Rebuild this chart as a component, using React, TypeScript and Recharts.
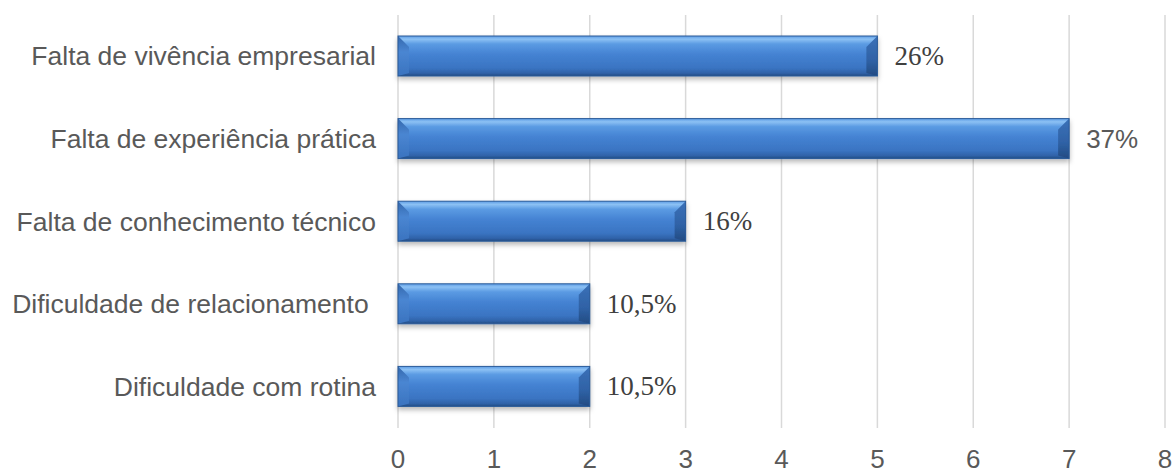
import React from "react";
import { BarChart, Bar, XAxis, YAxis, CartesianGrid, LabelList } from "recharts";

const categories = [
  "Falta de vivência empresarial",
  "Falta de experiência prática",
  "Falta de conhecimento técnico",
  "Dificuldade de relacionamento ",
  "Dificuldade com rotina",
];
const values = [5, 7, 3, 2, 2];
const percentLabels = ["26%", "37%", "16%", "10,5%", "10,5%"];
const xTicks = [0, 1, 2, 3, 4, 5, 6, 7, 8];

const data = categories.map((c, i) => ({ name: c, value: values[i], pct: percentLabels[i] }));

const SANS = "'Liberation Sans', Arial, sans-serif";
const SERIF = "'Liberation Serif', 'Times New Roman', serif";
const TEXT = "#595959";

const YTick = (props: any) => {
  const { x, y, payload } = props;
  const label = String(payload.value).replace(/ $/, "\u00A0");
  return (
    <text x={x} y={y} textAnchor="end" dominantBaseline="central" fill={TEXT} fontSize={26.5} fontFamily={SANS} style={{ whiteSpace: "pre" }}>
      {label}
    </text>
  );
};

const XTick = (props: any) => {
  const { x, y, payload } = props;
  return (
    <text x={x} y={y} textAnchor="middle" dy="0.71em" fill={TEXT} fontSize={26} fontFamily={SANS}>
      {payload.value}
    </text>
  );
};

const BarShape = (props: any) => {
  const { x, y, width, height } = props;
  if (!width || width <= 0) return null;
  const b = 11;
  return (
    <g filter="url(#barShadow)">
      <rect x={x} y={y} width={width} height={height} fill="url(#barGrad)" />
      <polygon points={`${x},${y} ${x + b},${y + b} ${x + b},${y + height - 3} ${x},${y + height}`} fill="url(#barGradLeft)" />
      <polygon points={`${x + width},${y} ${x + width - b},${y + b} ${x + width - b},${y + height - 3} ${x + width},${y + height}`} fill="url(#barGradRight)" />
      <rect x={x} y={y} width={width} height={height} fill="none" stroke="#2a5a98" strokeWidth={1} />
    </g>
  );
};

const PctLabel = (props: any) => {
  const { x, y, width, height, index } = props;
  const sans = index === 1;
  return (
    <text
      x={x + width + 17}
      y={y + height / 2}
      dominantBaseline="central"
      textAnchor="start"
      fill={sans ? TEXT : "#404040"}
      fontSize={sans ? 26 : 27}
      fontFamily={sans ? SANS : SERIF}
    >
      {percentLabels[index]}
    </text>
  );
};

export default function App() {
  return (
    <div style={{ position: "absolute", left: 0, top: 0, background: "#fff" }}>
      <BarChart width={1173} height={470} data={data} layout="vertical" margin={{ top: 15, right: 8, bottom: 0, left: 0 }} barSize={40}>
        <defs>
          <linearGradient id="barGrad" x1="0" y1="0" x2="0" y2="1">
            <stop offset="0%" stopColor="#5c9be4" />
            <stop offset="8%" stopColor="#8cc1f4" />
            <stop offset="20%" stopColor="#5b9be3" />
            <stop offset="45%" stopColor="#4583d3" />
            <stop offset="80%" stopColor="#3a74c2" />
            <stop offset="93%" stopColor="#2f62a8" />
            <stop offset="100%" stopColor="#234b82" />
          </linearGradient>
          <linearGradient id="barGradLeft" x1="0" y1="0" x2="0" y2="1">
            <stop offset="0%" stopColor="#3468ad" />
            <stop offset="40%" stopColor="#4a86d2" />
            <stop offset="100%" stopColor="#3a73bf" />
          </linearGradient>
          <linearGradient id="barGradRight" x1="0" y1="0" x2="0" y2="1">
            <stop offset="0%" stopColor="#3b71b8" />
            <stop offset="60%" stopColor="#2f62a6" />
            <stop offset="100%" stopColor="#234b82" />
          </linearGradient>
          <filter id="barShadow" x="-5%" y="-20%" width="110%" height="150%">
            <feDropShadow dx="0" dy="3" stdDeviation="2.5" floodColor="#000" floodOpacity="0.28" />
          </filter>
        </defs>
        <CartesianGrid horizontal={false} vertical stroke="#d9d9d9" strokeWidth={1.5} />
        <XAxis
          type="number"
          domain={[0, 8]}
          ticks={xTicks}
          interval={0}
          axisLine={false}
          tickLine={false}
          tickSize={0}
          tickMargin={22}
          height={42}
          tick={<XTick />}
        />
        <YAxis
          type="category"
          dataKey="name"
          width={398}
          axisLine={false}
          tickLine={false}
          tickSize={0}
          tickMargin={22}
          interval={0}
          tick={<YTick />}
        />
        <Bar dataKey="value" isAnimationActive={false} shape={<BarShape />}>
          <LabelList dataKey="pct" content={<PctLabel />} />
        </Bar>
      </BarChart>
    </div>
  );
}
